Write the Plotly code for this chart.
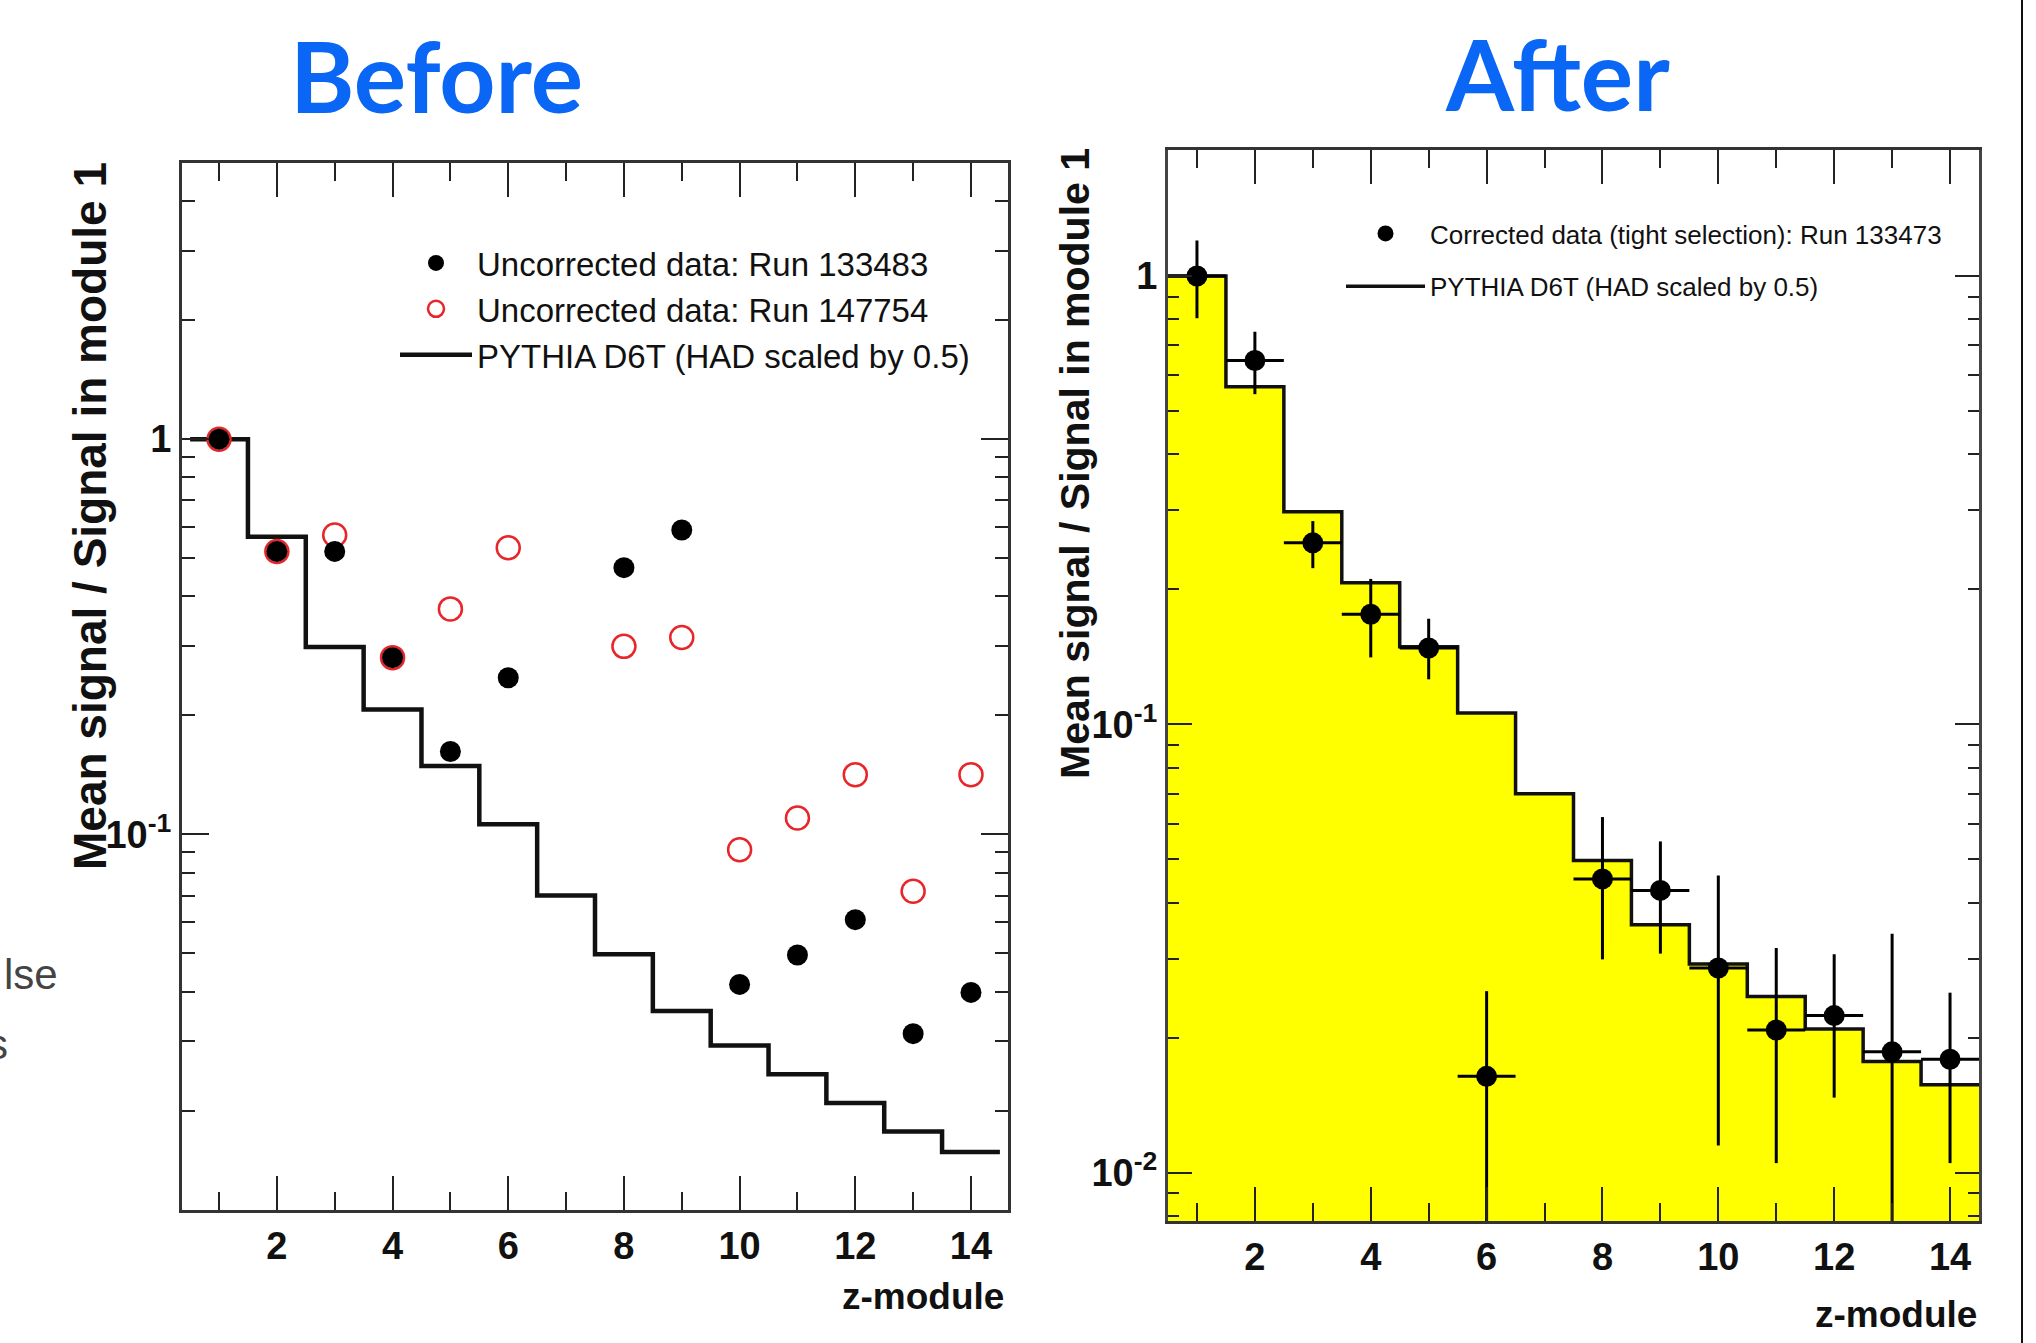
import plotly.graph_objects as go
import math

W, H = 2036, 1343

# ---------------- data ----------------
modules_all = [1, 2, 3, 4, 5, 6, 7, 8, 9, 10, 11, 12, 13, 14]
# PYTHIA D6T (HAD scaled by 0.5) histogram, per module
pythia = [1.0, 0.566, 0.298, 0.207, 0.149, 0.106, 0.070, 0.0497, 0.0357,
          0.0292, 0.0247, 0.0209, 0.0177, 0.0157]

# Before: uncorrected data
mod_data = [1, 2, 3, 4, 5, 6, 8, 9, 10, 11, 12, 13, 14]
run133483 = [1.0, 0.52, 0.52, 0.28, 0.162, 0.249, 0.473, 0.589, 0.0417,
             0.0495, 0.0608, 0.0313, 0.0398]
run147754 = [1.0, 0.52, 0.572, 0.28, 0.372, 0.531, 0.299, 0.315, 0.0914,
             0.110, 0.1416, 0.0718, 0.1416]

# After: corrected data (tight selection)
corrected = [1.0, 0.648, 0.254, 0.176, 0.148, 0.0164, 0.0452, 0.0426, 0.0286,
             0.0208, 0.0224, 0.0186, 0.0179]
corr_err_up = [0.20, 0.103, 0.030, 0.035, 0.024, 0.0090, 0.0169, 0.0122,
               0.0174, 0.0109, 0.0083, 0.0155, 0.0073]
corr_err_dn = [0.195, 0.103, 0.031, 0.035, 0.022, 0.0090, 0.0153, 0.0118,
               0.0171, 0.0103, 0.0077, 0.0155, 0.0074]

xticks = [2, 4, 6, 8, 10, 12, 14]
xminor = [1, 3, 5, 7, 9, 11, 13]

# step-outline built from the histogram
edges = [m - 0.5 for m in modules_all] + [modules_all[-1] + 0.5]
step_y = pythia + [pythia[-1]]


def xp(px):
    return px / W


def yp(py):
    return 1 - py / H


FONT = "Liberation Sans, Arial, sans-serif"
fig = go.Figure()

# ---------------- left panel ----------------
fig.add_trace(go.Scatter(
    x=edges, y=step_y, mode="lines", line=dict(shape="hv", color="#111", width=4.5),
    name="PYTHIA D6T (HAD scaled by 0.5)", xaxis="x", yaxis="y", legend="legend",
    legendrank=3))
fig.add_trace(go.Scatter(
    x=mod_data, y=run147754, mode="markers",
    marker=dict(symbol="circle-open", size=23, color="#e8262a", line=dict(width=2.5, color="#e8262a")),
    name="Uncorrected data: Run 147754", xaxis="x", yaxis="y", legend="legend",
    legendrank=2))
fig.add_trace(go.Scatter(
    x=mod_data, y=run133483, mode="markers",
    marker=dict(symbol="circle", size=21, color="#000"),
    name="Uncorrected data: Run 133483", xaxis="x", yaxis="y", legend="legend",
    legendrank=1))

# ---------------- right panel ----------------
fig.add_trace(go.Bar(
    x=modules_all, y=pythia, width=1, marker=dict(color="#ffff00", line=dict(width=0)),
    showlegend=False, xaxis="x2", yaxis="y2", hoverinfo="skip"))
fig.add_trace(go.Scatter(
    x=edges, y=step_y, mode="lines", line=dict(shape="hv", color="#111", width=3.5),
    name="PYTHIA D6T (HAD scaled by 0.5)", xaxis="x2", yaxis="y2", legend="legend2",
    legendgroup="g2", legendrank=2))
fig.add_trace(go.Scatter(
    x=mod_data, y=corrected, mode="markers",
    marker=dict(symbol="circle", size=21, color="#000"),
    error_y=dict(type="data", array=corr_err_up, arrayminus=corr_err_dn,
                 symmetric=False, thickness=3, width=0, color="#000"),
    error_x=dict(type="constant", value=0.5, thickness=3, width=0, color="#000"),
    name="Corrected data (tight selection): Run 133473", xaxis="x2", yaxis="y2",
    legend="legend2", legendgroup="g1", legendrank=1))

tickfont = dict(family=FONT, size=38, color="#111", weight="bold")

common_x = dict(
    ticks="inside", tickvals=xticks, ticklen=34, tickwidth=2, tickcolor="#222",
    showline=True, linewidth=3, linecolor="#333", mirror="ticks",
    showgrid=False, zeroline=False, tickfont=tickfont,
    minor=dict(tickvals=xminor, ticklen=18, tickwidth=2, tickcolor="#222", ticks="inside"),
)

dec_minor_left = [k * 10 ** e for e in (-2, -1) for k in range(2, 10)] + [2, 3, 4, 5]
dec_minor_right = [k * 10 ** e for e in (-3, -2, -1) for k in range(2, 10)]

fig.update_layout(
    width=W, height=H, margin=dict(l=0, r=0, t=0, b=0),
    paper_bgcolor="white", plot_bgcolor="white", bargap=0,
    showlegend=True,
    xaxis=dict(common_x, domain=[xp(182), xp(1008)], range=[0.36, 14.64], anchor="y"),
    yaxis=dict(
        type="log", domain=[yp(1210), yp(163)],
        range=[math.log10(0.0112), math.log10(5.0)], anchor="x",
        tickvals=[0.1, 1], ticktext=["10<sup>-1</sup>", "1"],
        ticks="inside", ticklen=27, tickwidth=2, tickcolor="#222",
        showline=True, linewidth=3, linecolor="#333", mirror="ticks",
        showgrid=False, zeroline=False, tickfont=tickfont,
        minor=dict(tickvals=dec_minor_left, ticklen=13, tickwidth=2, tickcolor="#222", ticks="inside"),
    ),
    xaxis2=dict(common_x, domain=[xp(1168), xp(1979)], range=[0.5, 14.5], anchor="y2"),
    yaxis2=dict(
        type="log", domain=[yp(1221), yp(150)],
        range=[math.log10(0.0078), math.log10(1.91)], anchor="x2",
        tickvals=[0.01, 0.1, 1], ticktext=["10<sup>-2</sup>", "10<sup>-1</sup>", "1"],
        ticks="inside", ticklen=24, tickwidth=2, tickcolor="#222",
        showline=True, linewidth=3, linecolor="#444", mirror="ticks",
        showgrid=False, zeroline=False, tickfont=tickfont,
        minor=dict(tickvals=dec_minor_right, ticklen=11, tickwidth=2, tickcolor="#222", ticks="inside"),
    ),
    legend=dict(x=xp(395), y=yp(235), xanchor="left", yanchor="top",
                font=dict(family=FONT, size=33, color="#111"), bgcolor="rgba(0,0,0,0)",
                tracegroupgap=0, itemwidth=72, traceorder="normal"),
    legend2=dict(x=xp(1341), y=yp(210), xanchor="left", yanchor="top",
                 font=dict(family=FONT, size=26, color="#111"), bgcolor="rgba(0,0,0,0)",
                 tracegroupgap=16, itemwidth=79, traceorder="grouped"),
)

ann = []
# titles
ann.append(dict(text="<b>Before</b>", x=xp(436), y=yp(75), xref="paper", yref="paper",
                showarrow=False, xanchor="center", yanchor="middle",
                font=dict(family="Lato", size=98, color="#0a66f5")))
ann.append(dict(text="<b>After</b>", x=xp(1557), y=yp(73), xref="paper", yref="paper",
                showarrow=False, xanchor="center", yanchor="middle",
                font=dict(family="Lato", size=98, color="#0a66f5")))
# y titles
ann.append(dict(text="<b>Mean signal / Signal in module 1</b>", x=xp(90), y=yp(516),
                xref="paper", yref="paper", showarrow=False, textangle=-90,
                xanchor="center", yanchor="middle",
                font=dict(family=FONT, size=46, color="#111")))
ann.append(dict(text="<b>Mean signal / Signal in module 1</b>", x=xp(1075), y=yp(464),
                xref="paper", yref="paper", showarrow=False, textangle=-90,
                xanchor="center", yanchor="middle",
                font=dict(family=FONT, size=41, color="#111")))
# x titles
ann.append(dict(text="<b>z-module</b>", x=xp(1006), y=yp(1296), xref="paper", yref="paper",
                showarrow=False, xanchor="right", yanchor="middle",
                font=dict(family=FONT, size=37, color="#111")))
ann.append(dict(text="<b>z-module</b>", x=xp(1979), y=yp(1314), xref="paper", yref="paper",
                showarrow=False, xanchor="right", yanchor="middle",
                font=dict(family=FONT, size=37, color="#111")))
# fragments of slide text at left edge
ann.append(dict(text="lse", x=xp(2), y=yp(974), xref="paper", yref="paper",
                showarrow=False, xanchor="left", yanchor="middle",
                font=dict(family=FONT, size=42, color="#444")))
ann.append(dict(text="s", x=xp(10), y=yp(1044), xref="paper", yref="paper",
                showarrow=False, xanchor="right", yanchor="middle",
                font=dict(family=FONT, size=42, color="#444")))
fig.update_layout(annotations=ann)

# slide border at right edge
fig.add_shape(type="line", xref="paper", yref="paper", x0=xp(2022), x1=xp(2022), y0=0, y1=1,
              line=dict(color="#111", width=2))

fig.write_html("out.html", config={"displayModeBar": False},
               post_script="document.body.style.margin='0px';")
